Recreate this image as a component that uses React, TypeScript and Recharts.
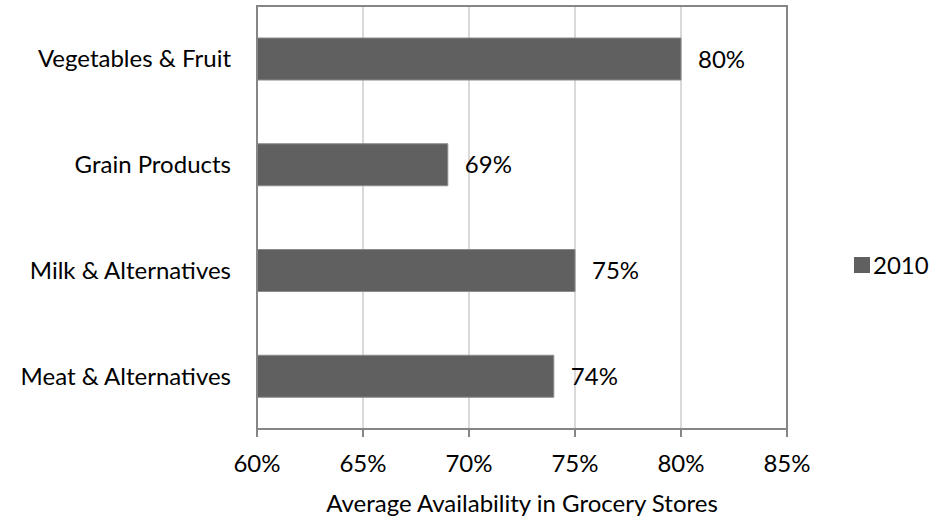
import {
  BarChart,
  Bar,
  XAxis,
  YAxis,
  CartesianGrid,
  Legend,
  LabelList,
  ReferenceArea,
} from "recharts";

const categories = [
  "Vegetables & Fruit",
  "Grain Products",
  "Milk & Alternatives",
  "Meat & Alternatives",
];
const values2010 = [0.8, 0.69, 0.75, 0.74];
const xTicks = [0.6, 0.65, 0.7, 0.75, 0.8, 0.85];

const data = categories.map((name, i) => ({ name, v2010: values2010[i] }));

const FONT = "Lato, 'Open Sans', sans-serif";
const AXIS = "#868686";
const BAR = "#606060";
const FS = 24;
const pct = (v: number) => `${Math.round(v * 100)}%`;

const LegendBox = ({ payload }: any) => (
  <div style={{ fontFamily: FONT, fontSize: FS, color: "#000" }}>
    {(payload || []).map((p: any) => (
      <div key={p.value} style={{ display: "flex", alignItems: "center" }}>
        <span
          style={{
            width: 16,
            height: 16,
            background: BAR,
            display: "inline-block",
            marginRight: 3,
          }}
        />
        <span>{p.value}</span>
      </div>
    ))}
  </div>
);

const App = () => {
  return (
    <div style={{ position: "absolute", left: 0, top: 0 }}>
      <BarChart
        width={932}
        height={520}
        data={data}
        layout="vertical"
        margin={{ top: 6, right: 65, bottom: 0, left: 0 }}
        style={{ fontFamily: FONT }}
      >
        <CartesianGrid horizontal={false} stroke="#d9d9d9" strokeWidth={2} />
        <XAxis
          type="number"
          domain={[0.6, 0.85]}
          ticks={xTicks}
          tickFormatter={pct}
          height={91}
          stroke={AXIS}
          strokeWidth={2}
          tickSize={8}
          tickMargin={18}
          tick={{ fill: "#000", fontSize: FS }}
          label={{
            value: "Average Availability in Grocery Stores",
            position: "insideBottom",
            offset: 8,
            fill: "#000",
            fontSize: FS,
          }}
        />
        <YAxis
          type="category"
          dataKey="name"
          width={257}
          stroke={AXIS}
          strokeWidth={2}
          tickLine={false}
          tickSize={0}
          tickMargin={26}
          tick={{ fill: "#000", fontSize: FS }}
        />
        <ReferenceArea
          x1={0.6}
          x2={0.85}
          fill="none"
          stroke={AXIS}
          strokeWidth={2}
          ifOverflow="visible"
        />
        <Legend
          layout="horizontal"
          verticalAlign="middle"
          align="right"
          wrapperStyle={{ left: 854, top: 250, width: 80 }}
          content={<LegendBox />}
        />
        <Bar
          dataKey="v2010"
          name="2010"
          fill={BAR}
          stroke="#8a8a8a"
          strokeWidth={1}
          barSize={42}
          isAnimationActive={false}
        >
          <LabelList
            dataKey="v2010"
            position="right"
            offset={17}
            formatter={(v: any) => pct(v)}
            fill="#000"
            fontSize={FS}
          />
        </Bar>
      </BarChart>
    </div>
  );
};

export default App;
